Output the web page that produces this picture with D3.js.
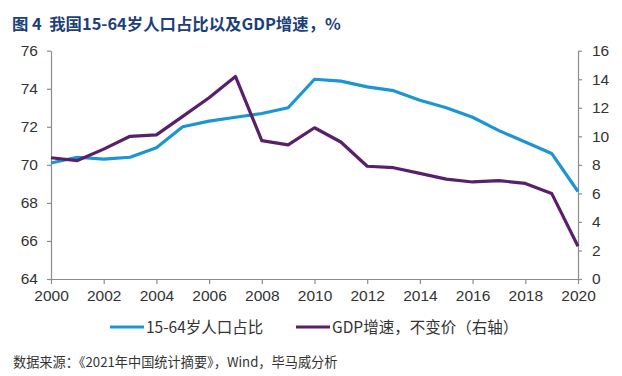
<!DOCTYPE html>
<html><head><meta charset="utf-8">
<script src="https://cdn.jsdelivr.net/npm/d3@7"></script>
<style>body{margin:0;background:#fff}svg{display:block}</style>
</head><body>
<svg id="c" width="622" height="376"></svg>
<script>
const years = d3.range(2000, 2021);
const popShare = [70.1,70.4,70.3,70.4,70.9,72.0,72.3,72.5,72.7,73.0,74.5,74.4,74.1,73.9,73.4,73.0,72.5,71.8,71.2,70.6,68.6];
const gdpGrowth = [8.5,8.3,9.1,10.0,10.1,11.4,12.7,14.2,9.7,9.4,10.6,9.6,7.9,7.8,7.4,7.0,6.8,6.9,6.7,6.0,2.3];
const leftTicks = [64,66,68,70,72,74,76];
const rightTicks = [0,2,4,6,8,10,12,14,16];
const xTicks = d3.range(2000, 2021, 2);
const titleText = "图 4\u00a0\u00a0我国15-64岁人口占比以及GDP增速，%";
const legendLabels = ["15-64岁人口占比", "GDP增速，不变价（右轴）"];
const sourceText = "数据来源：《2021年中国统计摘要》，Wind，毕马威分析";

const svg = d3.select("#c");
const font = "'Noto Sans CJK SC','Noto Sans',sans-serif";
const x = d3.scaleLinear().domain([2000, 2020]).range([51, 578]);
const yL = d3.scaleLinear().domain([64, 76]).range([279, 50.7]);
const yR = d3.scaleLinear().domain([0, 16]).range([279, 50.7]);
const blue = "#1b95d3", purple = "#5a1f6b", axisCol = "#8c8c8c", txt = "#333";

svg.append("text").attr("x", 12).attr("y", 30).attr("font-family", font)
  .attr("font-weight", "bold").attr("font-size", 16.4).attr("fill", "#1d3f7a").text(titleText);

function styleAxis(g) {
  g.selectAll("path,line").attr("stroke", axisCol).attr("stroke-width", 1.2);
  g.selectAll("text").attr("font-family", "'Liberation Sans',Arial,sans-serif").attr("font-size", 15.5).attr("fill", txt);
}
const gx = svg.append("g").attr("transform", "translate(0,279)")
  .call(d3.axisBottom(x).tickValues(xTicks).tickFormat(d3.format("d")).tickSize(5).tickSizeOuter(0).tickPadding(6));
styleAxis(gx);
const gl = svg.append("g").attr("transform", "translate(51,0)")
  .call(d3.axisLeft(yL).tickValues(leftTicks).tickSize(4).tickSizeOuter(0).tickPadding(9));
styleAxis(gl);
const gr = svg.append("g").attr("transform", "translate(578,0)")
  .call(d3.axisRight(yR).tickValues(rightTicks).tickSize(4).tickSizeOuter(0).tickPadding(10));
styleAxis(gr);

svg.append("path").datum(popShare)
  .attr("d", d3.line().x((d, i) => x(years[i])).y(d => yL(d)))
  .attr("fill", "none").attr("stroke", blue).attr("stroke-width", 3.2).attr("stroke-linejoin", "round");
svg.append("path").datum(gdpGrowth)
  .attr("d", d3.line().x((d, i) => x(years[i])).y(d => yR(d)))
  .attr("fill", "none").attr("stroke", purple).attr("stroke-width", 3.2).attr("stroke-linejoin", "round");

const leg = [{c: blue, x: 110, t: legendLabels[0]}, {c: purple, x: 296, t: legendLabels[1]}];
leg.forEach(l => {
  svg.append("line").attr("x1", l.x).attr("x2", l.x + 34).attr("y1", 327).attr("y2", 327)
    .attr("stroke", l.c).attr("stroke-width", 3.2);
  svg.append("text").attr("x", l.x + 36).attr("y", 333).attr("font-family", font)
    .attr("font-size", 15.5).attr("fill", txt).text(l.t);
});

svg.append("text").attr("x", 13).attr("y", 367).attr("font-family", font)
  .attr("font-size", 13.2).attr("fill", txt).text(sourceText);
</script>
</body></html>
